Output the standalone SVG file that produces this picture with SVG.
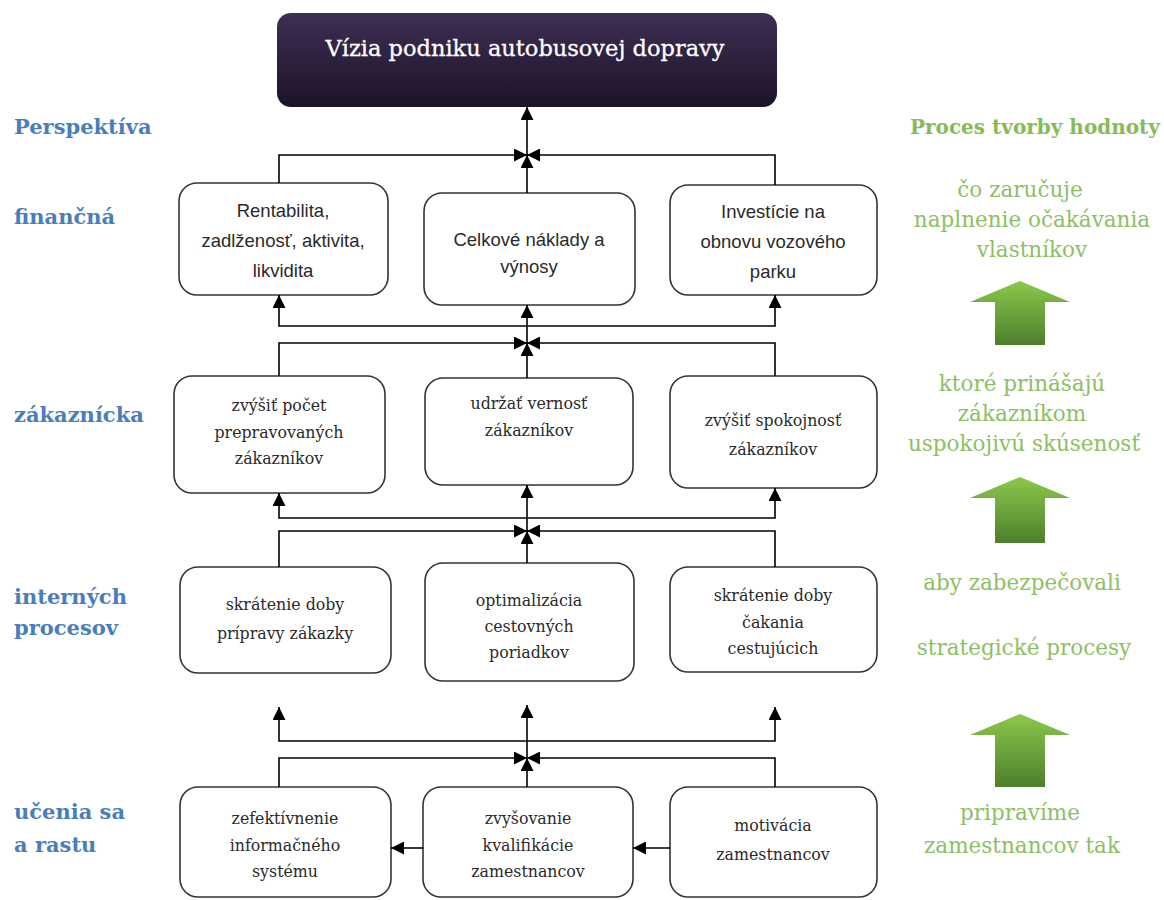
<svg xmlns="http://www.w3.org/2000/svg" width="1164" height="900" viewBox="0 0 1164 900">
<defs>
<linearGradient id="gTitle" x1="0" y1="0" x2="0" y2="1">
<stop offset="0" stop-color="#3f2e55"/>
<stop offset="1" stop-color="#1c1327"/>
</linearGradient>
<linearGradient id="gGreen" x1="0" y1="0" x2="0" y2="1">
<stop offset="0" stop-color="#8cc84b"/>
<stop offset="1" stop-color="#4d7f2c"/>
</linearGradient>
<marker id="ah" viewBox="0 0 12 12" refX="12" refY="6" markerWidth="13" markerHeight="13" markerUnits="userSpaceOnUse" orient="auto">
<path d="M0,0 L12,6 L0,12 z" fill="#000"/>
</marker>
<style>
.box{fill:#fff;stroke:#333;stroke-width:1.6}
.ca{fill:none;stroke:#000;stroke-width:1.6;marker-end:url(#ah)}
.t{font-family:"DejaVu Serif",serif;font-size:15.8px;fill:#2a2a2a;text-anchor:middle}
.s{font-family:"Liberation Sans",Arial,sans-serif;font-size:18.5px;fill:#2a2a2a;text-anchor:middle}
.lb{font-family:"DejaVu Serif",serif;font-size:21px;font-weight:bold;fill:#4a7ebb}
.g{font-family:"DejaVu Serif",serif;font-size:21.5px;fill:#8cc063;text-anchor:middle}
.gb{font-family:"DejaVu Serif",serif;font-size:20px;font-weight:bold;fill:#86bb58;text-anchor:middle}
</style>
</defs>
<rect width="1164" height="900" fill="#fff"/>

<g id="title">
<rect x="277" y="13" width="500" height="94" rx="14" fill="url(#gTitle)"/>
<text x="525" y="56" font-family="DejaVu Serif, serif" font-size="22.5px" fill="#fff" stroke="#fff" stroke-width="0.3" text-anchor="middle">Vízia podniku autobusovej dopravy</text>
</g>

<g id="labels-left">
<text class="lb" x="14" y="134">Perspektíva</text>
<text class="lb" x="14" y="224">finančná</text>
<text class="lb" x="14" y="422">zákaznícka</text>
<text class="lb" x="14" y="604">interných</text>
<text class="lb" x="14" y="635">procesov</text>
<text class="lb" x="14" y="819">učenia sa</text>
<text class="lb" x="14" y="852">a rastu</text>
</g>

<g id="labels-right">
<text class="gb" x="1035" y="134">Proces tvorby hodnoty</text>
<text class="g" x="1020" y="197">čo zaručuje</text>
<text class="g" x="1032" y="227">naplnenie očakávania</text>
<text class="g" x="1032" y="257">vlastníkov</text>
<polygon points="1020,281 1070,302 1045,302 1045,345 995,345 995,302 970,302" fill="url(#gGreen)"/>
<text class="g" x="1022" y="391">ktoré prinášajú</text>
<text class="g" x="1022" y="421">zákazníkom</text>
<text class="g" x="1024" y="451">uspokojivú skúsenosť</text>
<polygon points="1020,477 1070,498 1045,498 1045,543 995,543 995,498 970,498" fill="url(#gGreen)"/>
<text class="g" x="1022" y="590">aby zabezpečovali</text>
<text class="g" x="1024" y="655">strategické procesy</text>
<polygon points="1020,714 1070,735 1045,735 1045,787 995,787 995,735 970,735" fill="url(#gGreen)"/>
<text class="g" x="1020" y="820">pripravíme</text>
<text class="g" x="1022" y="853">zamestnancov tak</text>
</g>

<g id="f1"><rect class="box" x="179" y="183" width="209" height="112" rx="18"/>
<text class="s" x="283" y="217">Rentabilita,</text>
<text class="s" x="283" y="247">zadlženosť, aktivita,</text>
<text class="s" x="283" y="277">likvidita</text></g>
<g id="f2"><rect class="box" x="424" y="193" width="211" height="112" rx="18"/>
<text class="s" x="529" y="246">Celkové náklady a</text>
<text class="s" x="529" y="273">výnosy</text></g>
<g id="f3"><rect class="box" x="670" y="185" width="207" height="110" rx="18"/>
<text class="s" x="773" y="218">Investície na</text>
<text class="s" x="773" y="248">obnovu vozového</text>
<text class="s" x="773" y="278">parku</text></g>

<g id="z1"><rect class="box" x="174" y="376" width="211" height="117" rx="18"/>
<text class="t" x="279" y="411">zvýšiť počet</text>
<text class="t" x="279" y="438">prepravovaných</text>
<text class="t" x="279" y="464">zákazníkov</text></g>
<g id="z2"><rect class="box" x="425" y="378" width="208" height="107" rx="18"/>
<text class="t" x="529" y="409">udržať vernosť</text>
<text class="t" x="529" y="436">zákazníkov</text></g>
<g id="z3"><rect class="box" x="670" y="376" width="207" height="112" rx="18"/>
<text class="t" x="773" y="426">zvýšiť spokojnosť</text>
<text class="t" x="773" y="455">zákazníkov</text></g>

<g id="i1"><rect class="box" x="180" y="567" width="211" height="106" rx="18"/>
<text class="t" x="285" y="610">skrátenie doby</text>
<text class="t" x="285" y="639">prípravy zákazky</text></g>
<g id="i2"><rect class="box" x="425" y="563" width="209" height="118" rx="18"/>
<text class="t" x="529" y="606">optimalizácia</text>
<text class="t" x="529" y="632">cestovných</text>
<text class="t" x="529" y="658">poriadkov</text></g>
<g id="i3"><rect class="box" x="670" y="567" width="207" height="105" rx="18"/>
<text class="t" x="773" y="601">skrátenie doby</text>
<text class="t" x="773" y="628">čakania</text>
<text class="t" x="773" y="654">cestujúcich</text></g>

<g id="u1"><rect class="box" x="180" y="787" width="211" height="110" rx="18"/>
<text class="t" x="285" y="824">zefektívnenie</text>
<text class="t" x="285" y="851">informačného</text>
<text class="t" x="285" y="877">systému</text></g>
<g id="u2"><rect class="box" x="423" y="787" width="210" height="110" rx="18"/>
<text class="t" x="528" y="824">zvyšovanie</text>
<text class="t" x="528" y="851">kvalifikácie</text>
<text class="t" x="528" y="877">zamestnancov</text></g>
<g id="u3"><rect class="box" x="670" y="787" width="207" height="110" rx="18"/>
<text class="t" x="773" y="831">motivácia</text>
<text class="t" x="773" y="860">zamestnancov</text></g>

<g id="connectors">
<path class="ca" d="M279,183 V155 H527"/>
<path class="ca" d="M775,185 V155 H527"/>
<path class="ca" d="M527,193 V155"/>
<path class="ca" d="M527,155 V107"/>

<path class="ca" d="M527,343 V305"/>
<path class="ca" d="M527,326 H279 V295"/>
<path class="ca" d="M527,326 H775 V295"/>
<path class="ca" d="M279,376 V343 H527"/>
<path class="ca" d="M775,376 V343 H527"/>
<path class="ca" d="M527,378 V343"/>

<path class="ca" d="M527,531 V485"/>
<path class="ca" d="M527,518 H279 V493"/>
<path class="ca" d="M527,518 H775 V488"/>
<path class="ca" d="M279,567 V531 H527"/>
<path class="ca" d="M775,567 V531 H527"/>
<path class="ca" d="M527,563 V531"/>

<path class="ca" d="M527,758 V705"/>
<path class="ca" d="M527,741 H279 V707"/>
<path class="ca" d="M527,741 H775 V707"/>
<path class="ca" d="M279,787 V758 H527"/>
<path class="ca" d="M775,787 V758 H527"/>
<path class="ca" d="M527,787 V758"/>

<path class="ca" d="M423,848 H391"/>
<path class="ca" d="M670,848 H633"/>
</g>
</svg>
